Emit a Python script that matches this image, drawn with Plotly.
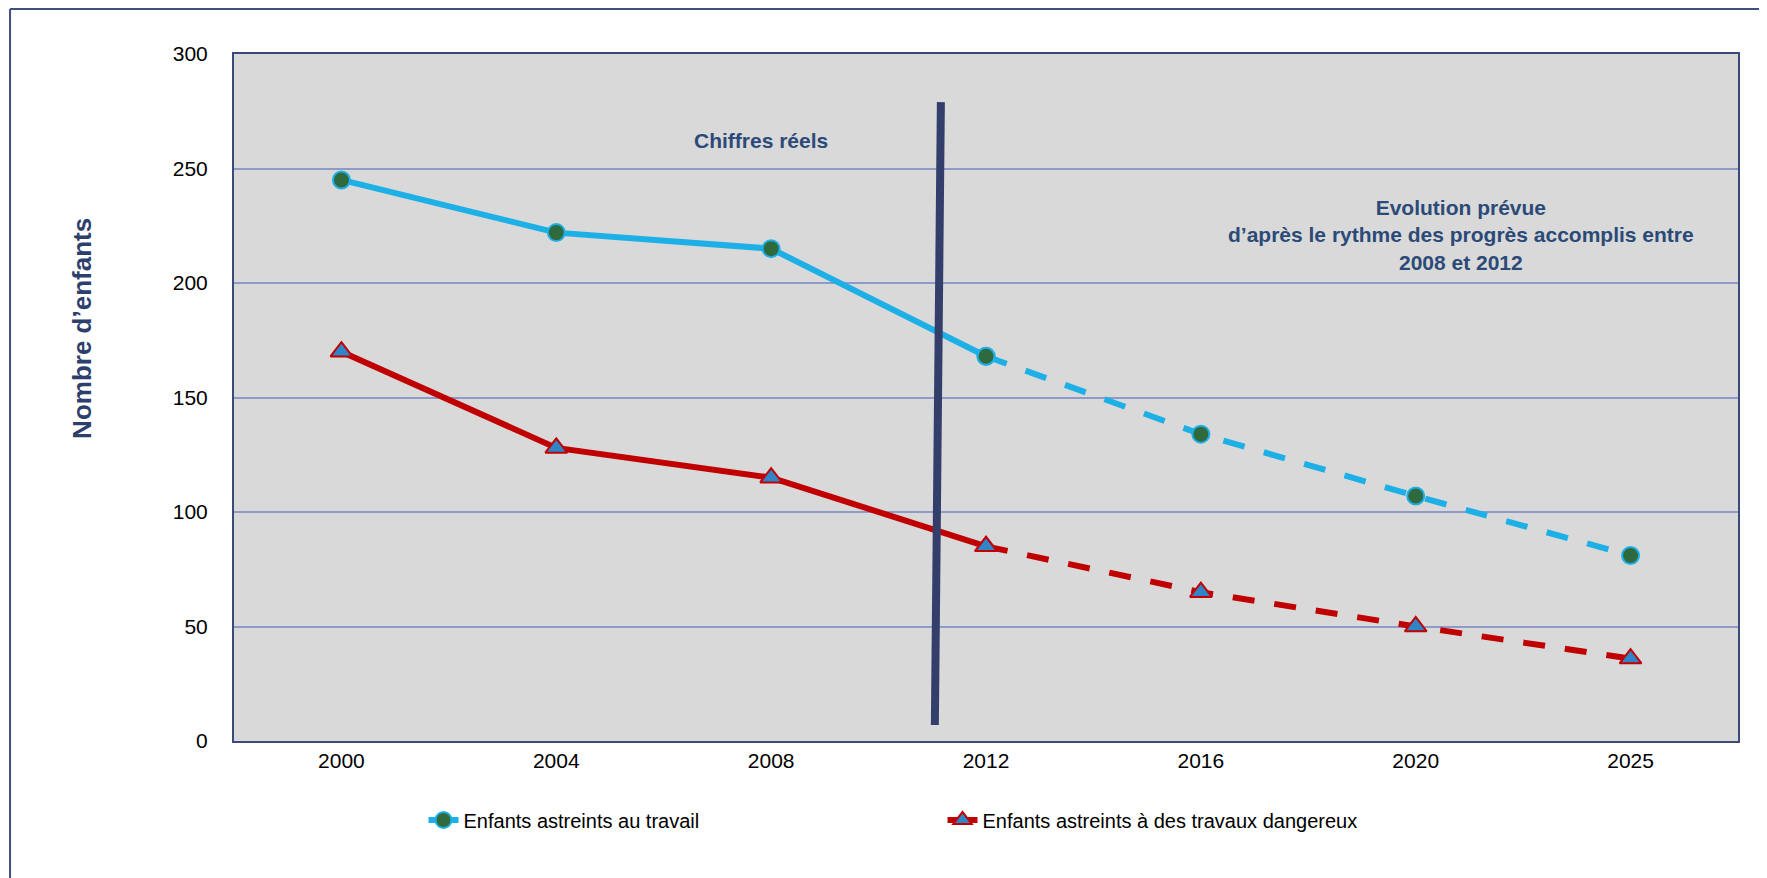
import plotly.graph_objects as go

years = ["2000", "2004", "2008", "2012", "2016", "2020", "2025"]
travail = [245, 222, 215, 168, 134, 107, 81]
dangereux = [170, 128, 115, 85, 65, 50, 36]
name_travail = "Enfants astreints au travail"
name_dangereux = "Enfants astreints à des travaux dangereux"
y_ticks = [0, 50, 100, 150, 200, 250, 300]

FONT = "Liberation Sans Narrow, Arial Narrow, Liberation Sans, Arial, sans-serif"
BLUE = "#1DB0E6"
RED = "#C00000"
NAVY = "#2C4A78"

fig = go.Figure()

# solid (actual) parts: 2000-2012
fig.add_trace(go.Scatter(
    x=years[:4], y=travail[:4], mode="lines+markers", name=name_travail,
    line=dict(color=BLUE, width=6),
    marker=dict(symbol="circle", size=17, color="#2E6A3E", line=dict(color=BLUE, width=2)),
    legendgroup="a"))
fig.add_trace(go.Scatter(
    x=years[3:], y=travail[3:], mode="lines+markers", name=name_travail,
    line=dict(color=BLUE, width=6, dash="22px,20px"),
    marker=dict(symbol="circle", size=17, color="#2E6A3E", line=dict(color=BLUE, width=2)),
    legendgroup="a", showlegend=False))
fig.add_trace(go.Scatter(
    x=years[:4], y=dangereux[:4], mode="lines+markers", name=name_dangereux,
    line=dict(color=RED, width=6),
    marker=dict(symbol="triangle-up", size=19, color="#2E86C8", line=dict(color=RED, width=2)),
    legendgroup="b"))
fig.add_trace(go.Scatter(
    x=years[3:], y=dangereux[3:], mode="lines+markers", name=name_dangereux,
    line=dict(color=RED, width=6, dash="22px,20px"),
    marker=dict(symbol="triangle-up", size=19, color="#2E86C8", line=dict(color=RED, width=2)),
    legendgroup="b", showlegend=False))

shapes = [
    # separator between actual and projected figures
    dict(type="line", xref="x", yref="y", x0=2.762, y0=7, x1=2.790, y1=279,
         line=dict(color="#333F6A", width=8), layer="above"),
    # outer frame (left and top edges visible)
    dict(type="line", xref="paper", yref="paper", x0=-0.1489, y0=1.0655, x1=1.05, y1=1.0655,
         line=dict(color="#3F4F80", width=2)),
    dict(type="line", xref="paper", yref="paper", x0=-0.1489, y0=1.0655, x1=-0.1489, y1=-0.21,
         line=dict(color="#3F4F80", width=2)),
]

annotations = [
    dict(text="Chiffres réels", xref="x", yref="y", x=1.953, y=262.4, showarrow=False,
         xanchor="center", yanchor="middle",
         font=dict(family=FONT, size=21, color=NAVY, weight="bold")),
    dict(text="Evolution prévue<br>d’après le rythme des progrès accomplis entre<br>2008 et 2012",
         xref="x", yref="y", x=5.21, y=220.8, showarrow=False, align="center",
         xanchor="center", yanchor="middle",
         font=dict(family=FONT, size=21, color=NAVY, weight="bold")),
    dict(text="Nombre d’enfants", xref="paper", yref="paper", x=-0.101, y=0.600,
         textangle=-90, showarrow=False, xanchor="center", yanchor="middle",
         font=dict(family=FONT, size=26, color="#2E3F6B", weight="bold")),
]

fig.update_layout(
    width=1759, height=870,
    margin=dict(l=226, r=29, t=46, b=137),
    paper_bgcolor="white", plot_bgcolor="#D9D9D9",
    font=dict(family=FONT, size=21, color="black"),
    showlegend=True,
    legend=dict(orientation="h", x=0.126, y=-0.115, xanchor="left", yanchor="middle",
                entrywidth=474, entrywidthmode="pixels",
                font=dict(family=FONT, size=20, color="black"),
                bgcolor="rgba(0,0,0,0)"),
    shapes=shapes, annotations=annotations,
)

fig.update_xaxes(type="category", range=[-0.5, 6.5], showgrid=False, zeroline=False,
                 showline=True, linecolor="#3A4A7A", linewidth=2, mirror=True,
                 ticks="", ticklabelstandoff=0, tickfont=dict(size=21))
fig.update_yaxes(range=[0, 300], tickvals=y_ticks, showgrid=True, gridcolor="#8E9BC8",
                 gridwidth=2, zeroline=False, showline=True, linecolor="#3A4A7A",
                 linewidth=2, mirror=True, ticks="", ticklabelstandoff=20,
                 tickfont=dict(size=21))

fig.write_html("out.html")
